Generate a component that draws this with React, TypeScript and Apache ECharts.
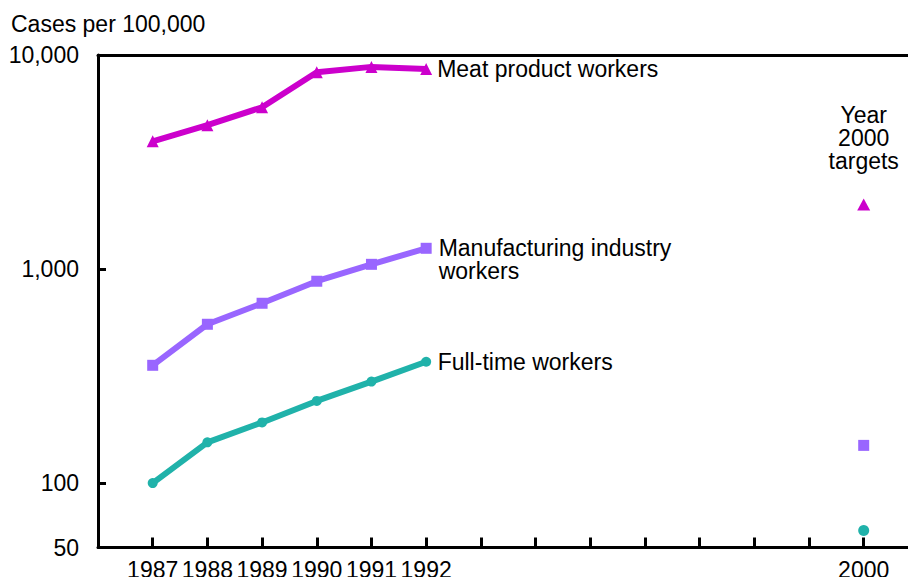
import React, { useEffect, useRef } from "react";
import * as echarts from "echarts";

const years = [1987, 1988, 1989, 1990, 1991, 1992];
const meatValues = [3950, 4700, 5700, 8300, 8800, 8600];
const manufacturingValues = [355, 552, 692, 877, 1052, 1250];
const fullTimeValues = [100, 155, 192, 242, 298, 369];
const targetYear = 2000;
const meatTarget = 2000;
const manufacturingTarget = 150;
const fullTimeTarget = 60;
const xTickValues = [1987, 1988, 1989, 1990, 1991, 1992, 1993, 1994, 1995, 1996, 1997, 1998, 1999, 2000];
const xLabelValues = [1987, 1988, 1989, 1990, 1991, 1992, 2000];
const yLabelValues = [50, 100, 1000, 10000];
const yTickValues = [100, 1000, 10000];

const FONT = "'Liberation Sans', Arial, Helvetica, sans-serif";
const FS = 23;
const MEAT = "#cc00cc";
const MANU = "#9966ff";
const FULL = "#20b2aa";

export default function App() {
  const ref = useRef<HTMLDivElement>(null);
  useEffect(() => {
    if (!ref.current) return;
    const chart = echarts.init(ref.current, undefined, { renderer: "svg" });
    const pair = (vals: number[]) => years.map((y, i) => [y, vals[i]]);
    const lastLabel = (name: string, distance: number, offsetY = 0) => ({
      show: true,
      position: "right",
      distance,
      offset: [0, offsetY],
      formatter: () => name,
      color: "#000",
      fontFamily: FONT,
      fontSize: FS,
      lineHeight: 23,
      align: "left",
    });
    const lineSeries = (
      vals: number[],
      color: string,
      symbol: string,
      size: number | number[],
      label: any
    ) => ({
      type: "line",
      data: pair(vals).map((p, i) =>
        i === vals.length - 1 ? { value: p, label } : { value: p }
      ),
      symbol,
      symbolSize: size,
      showSymbol: true,
      showAllSymbol: true,
      lineStyle: { color, width: 6 },
      itemStyle: { color, opacity: 1 },
      label: { show: false },
      z: 3,
    });
    chart.setOption({
      animation: false,
      backgroundColor: "#fff",
      title: {
        text: "Cases per 100,000",
        left: 11,
        top: 12,
        padding: 0,
        textStyle: { color: "#000", fontFamily: FONT, fontSize: FS, fontWeight: "normal", lineHeight: 23 },
      },
      grid: { left: 98, right: 0, top: 55, bottom: 29.5, containLabel: false, outerBoundsMode: "none" },
      xAxis: [
        {
          type: "value",
          min: 1986,
          max: 2000.81,
          interval: 1,
          position: "bottom",
          axisLine: { show: true, lineStyle: { color: "#000", width: 3 } },
          axisTick: { show: true, inside: true, length: 10, lineStyle: { color: "#000", width: 3 }, customValues: xTickValues },
          axisLabel: {
            show: true,
            customValues: xLabelValues,
            formatter: (v: number) => String(Math.round(v)),
            color: "#000",
            fontFamily: FONT,
            fontSize: FS,
            margin: 11,
            hideOverlap: false,
          },
          splitLine: { show: false },
        },
        {
          type: "value",
          min: 1986,
          max: 2000.81,
          position: "top",
          axisLine: { show: true, lineStyle: { color: "#000", width: 3 } },
          axisTick: { show: false },
          axisLabel: { show: false },
          splitLine: { show: false },
        },
      ],
      yAxis: {
        type: "log",
        logBase: 10,
        min: 50,
        max: 10000,
        axisLine: { show: true, lineStyle: { color: "#000", width: 3 } },
        axisTick: { show: true, inside: true, length: 8, lineStyle: { color: "#000", width: 3 }, customValues: yTickValues },
        axisLabel: {
          show: true,
          customValues: yLabelValues,
          formatter: (v: number) => Math.round(v).toLocaleString("en-US"),
          color: "#000",
          fontFamily: FONT,
          fontSize: FS,
          margin: 19,
        },
        splitLine: { show: false },
      },
      series: [
        lineSeries(meatValues, MEAT, "triangle", 12, lastLabel("Meat product workers", 5)),
        lineSeries(manufacturingValues, MANU, "rect", 11, lastLabel("Manufacturing industry\nworkers", 7, 11.5)),
        lineSeries(fullTimeValues, FULL, "circle", 10, lastLabel("Full-time workers", 6.5)),
        {
          type: "scatter",
          itemStyle: { opacity: 1 },
          data: [
            {
              value: [targetYear, meatTarget],
              symbol: "triangle",
              symbolSize: [13, 12],
              itemStyle: { color: MEAT, opacity: 1 },
              label: {
                show: true,
                position: "top",
                distance: 26,
                formatter: () => "Year\n2000\ntargets",
                color: "#000",
                fontFamily: FONT,
                fontSize: FS,
                lineHeight: 23,
                align: "center",
              },
            },
            { value: [targetYear, manufacturingTarget], symbol: "rect", symbolSize: 11, itemStyle: { color: MANU, opacity: 1 } },
            { value: [targetYear, fullTimeTarget], symbol: "circle", symbolSize: 11, itemStyle: { color: FULL, opacity: 1 } },
          ],
          z: 4,
        },
      ],
    });
    return () => chart.dispose();
  }, []);
  return (
    <div
      ref={ref}
      style={{ position: "absolute", left: 0, top: 0, width: 908, height: 577 }}
    />
  );
}
